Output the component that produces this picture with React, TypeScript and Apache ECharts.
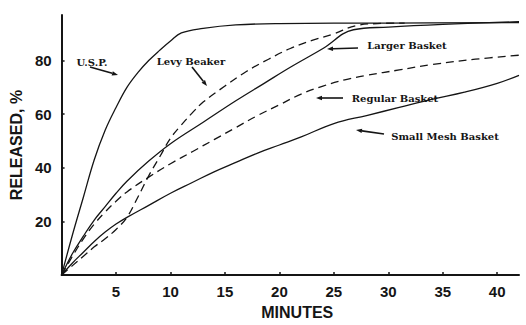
import React, { useEffect, useRef } from "react";
import * as echarts from "echarts";

const xTicks = [5, 10, 15, 20, 25, 30, 35, 40];
const yTicks = [20, 40, 60, 80];

const uspData: [number, number][] = [
  [0, 0], [1, 15], [2, 29], [3, 43], [4, 54], [5, 62.5], [6, 70], [7, 75.5], [8, 80],
  [9, 83.8], [10, 87.3], [11, 90.3], [13, 92], [16, 93.3], [20, 93.8], [30, 94], [42, 94.2],
];
const levyData: [number, number][] = [
  [0, 0], [1, 3.5], [2, 7], [3, 10.5], [4, 13.5], [5, 17], [6, 21.5], [7, 29], [8, 37],
  [9, 44], [10, 51], [11, 56], [12, 60.5], [13, 64.5], [15, 70.5], [17, 76], [19, 80.5],
  [21, 84.5], [23, 87.5], [25, 90], [27, 93], [29, 93.8], [31.5, 94],
];
const largerData: [number, number][] = [
  [0, 0], [1, 8], [2, 14.5], [3, 20.5], [4, 25.5], [5, 30.5], [6, 35], [8, 42.5], [10, 49],
  [13, 57], [16, 65], [18.6, 71.5], [21, 77.5], [24, 84.5], [26.8, 91.5], [30, 92.5],
  [35, 93.5], [42, 94.5],
];
const regularData: [number, number][] = [
  [0, 0], [1, 7], [2, 13.5], [3, 19], [4, 23.5], [5, 27.5], [6, 31], [8, 36.5], [10, 41.5],
  [12, 46], [14, 50.5], [16, 55], [18, 59.5], [20, 63.5], [22, 67.5], [24, 70.5], [26, 72.8],
  [28, 74.5], [31, 76.5], [34, 78.5], [38, 80.5], [42, 82],
];
const smallMeshData: [number, number][] = [
  [0, 0], [1, 4.5], [2, 8.5], [3, 12.5], [4, 16], [5, 19], [6, 21.5], [8, 26], [10, 30.5],
  [12, 34.5], [14, 38.5], [16, 42], [18, 45.5], [20, 48.5], [22, 51.5], [25, 56.5], [28, 59.5],
  [31, 62.5], [34, 65.5], [37, 68.2], [40, 71.5], [42, 74.5],
];

const INK = "#151515";

function arrow(x1: number, y1: number, x2: number, y2: number): any[] {
  const dx = x2 - x1;
  const dy = y2 - y1;
  const len = Math.sqrt(dx * dx + dy * dy);
  const ux = dx / len;
  const uy = dy / len;
  const hl = 6;
  const hw = 2.2;
  const bx = x2 - ux * hl;
  const by = y2 - uy * hl;
  return [
    {
      type: "line",
      shape: { x1, y1, x2: bx, y2: by },
      style: { stroke: INK, lineWidth: 1.6 },
    },
    {
      type: "polygon",
      shape: {
        points: [
          [x2, y2],
          [bx - uy * hw, by + ux * hw],
          [bx + uy * hw, by - ux * hw],
        ],
      },
      style: { fill: INK },
    },
  ];
}

function label(text: string, x: number, y: number): any {
  return {
    type: "text",
    x,
    y,
    style: {
      text,
      fill: INK,
      font: "bold 10px 'DejaVu Serif', serif",
      align: "center",
      verticalAlign: "middle",
    },
  };
}

export default function App() {
  const ref = useRef<HTMLDivElement>(null);
  useEffect(() => {
    const chart = echarts.init(ref.current!, null, { renderer: "svg" });
    const lineSeries = (name: string, data: [number, number][], dashed: boolean) => ({
      name,
      type: "line",
      data,
      smooth: 0.4,
      showSymbol: false,
      symbol: "none",
      lineStyle: { color: INK, width: 1.3, type: dashed ? [8, 5] : "solid" },
    });
    chart.setOption({
      animation: false,
      backgroundColor: "#ffffff",
      grid: { left: 60, right: 7, top: 15, bottom: 46 },
      xAxis: {
        type: "value",
        min: 0,
        max: 42,
        interval: 5,
        name: "MINUTES",
        nameLocation: "middle",
        nameGap: 29,
        nameTextStyle: {
          color: INK,
          fontFamily: "Liberation Sans, Arial, sans-serif",
          fontWeight: "bold",
          fontSize: 16,
          padding: [0, 0, 0, 14],
        },
        axisLine: { lineStyle: { color: INK, width: 2 } },
        axisTick: { inside: true, length: 3, customValues: xTicks, lineStyle: { color: INK, width: 1.5 } },
        axisLabel: {
          customValues: xTicks,
          margin: 9,
          color: INK,
          fontFamily: "Liberation Sans, Arial, sans-serif",
          fontWeight: "bold",
          fontSize: 15,
        },
        splitLine: { show: false },
      },
      yAxis: {
        type: "value",
        min: 0,
        max: 97,
        interval: 20,
        name: "RELEASED, %",
        nameLocation: "middle",
        nameGap: 35,
        nameTextStyle: {
          color: INK,
          fontFamily: "Liberation Sans, Arial, sans-serif",
          fontWeight: "bold",
          fontSize: 16,
        },
        axisLine: { show: true, lineStyle: { color: INK, width: 2 } },
        axisTick: { show: true, inside: true, length: 3, customValues: yTicks, lineStyle: { color: INK, width: 1.5 } },
        axisLabel: {
          customValues: yTicks,
          margin: 10,
          color: INK,
          fontFamily: "Liberation Sans, Arial, sans-serif",
          fontWeight: "bold",
          fontSize: 15,
        },
        splitLine: { show: false },
      },
      series: [
        lineSeries("U.S.P.", uspData, false),
        lineSeries("Levy Beaker", levyData, true),
        lineSeries("Larger Basket", largerData, false),
        lineSeries("Regular Basket", regularData, true),
        lineSeries("Small Mesh Basket", smallMeshData, false),
      ],
      graphic: [
        label("U.S.P.", 92, 62),
        ...arrow(90, 67, 118, 75),
        label("Levy Beaker", 191, 61),
        ...arrow(192, 67, 207, 86),
        label("Larger Basket", 407, 45),
        ...arrow(358, 48, 327, 49),
        label("Regular Basket", 395, 98),
        ...arrow(343, 98, 316, 98),
        label("Small Mesh Basket", 445, 136),
        ...arrow(384, 134, 356, 130),
      ],
    });
    return () => chart.dispose();
  }, []);
  return (
    <div
      ref={ref}
      style={{ width: 526, height: 325, position: "fixed", left: 0, top: 0, background: "#fff" }}
    />
  );
}
